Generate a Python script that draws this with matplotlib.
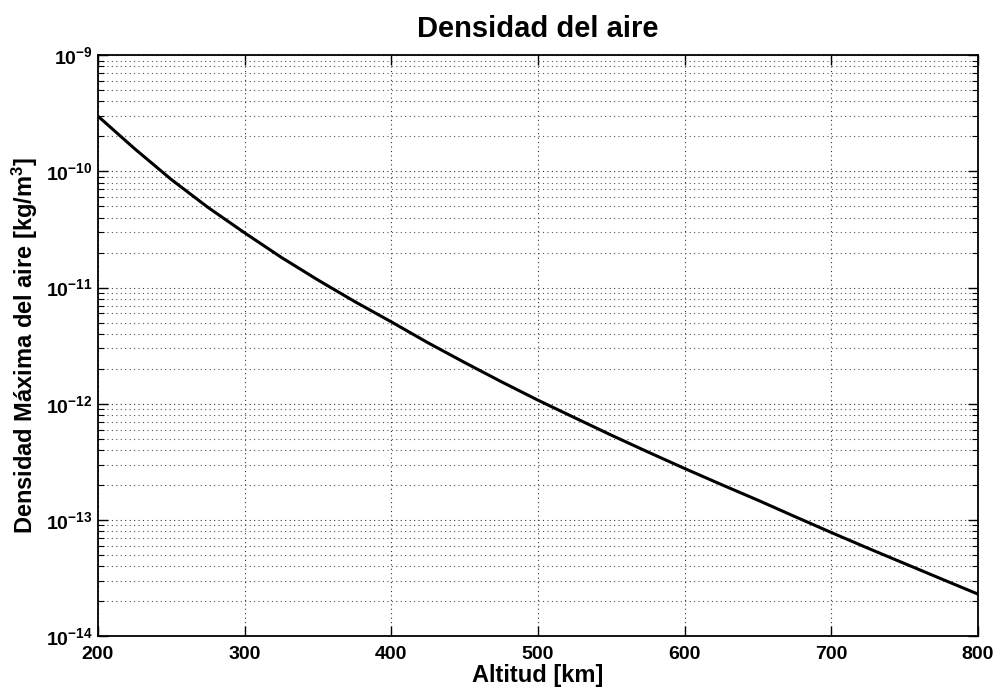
import numpy as np
import matplotlib
matplotlib.use('Agg')
import matplotlib.pyplot as plt
from matplotlib.ticker import LogLocator, NullFormatter

plt.rcParams['font.family'] = ['Liberation Sans', 'DejaVu Sans']
plt.rcParams['font.weight'] = 'bold'
plt.rcParams['mathtext.fontset'] = 'custom'
plt.rcParams['mathtext.rm'] = 'Liberation Sans:bold'
plt.rcParams['mathtext.default'] = 'rm'

# altitud [km] y log10 de la densidad
altitud = [200, 225, 250, 275, 300, 325, 350, 375, 400, 425, 450, 475, 500,
           525, 550, 575, 600, 625, 650, 675, 700, 725, 750, 775, 800]
log_dens = [-9.525, -9.805, -10.07, -10.31, -10.529, -10.74, -10.935, -11.12,
            -11.295, -11.475, -11.645, -11.81, -11.969, -12.12, -12.27, -12.415,
            -12.557, -12.695, -12.83, -12.97, -13.108, -13.243, -13.375, -13.507, -13.638]
densidad = [10 ** v for v in log_dens]

fig = plt.figure(figsize=(10, 6.9), dpi=100)
ax = fig.add_axes([0.098, 0.078, 0.88, 0.842])

ax.semilogy(altitud, densidad, color='black', linewidth=2.2)
ax.set_xlim(200, 800)
ax.set_ylim(1e-14, 1e-9)
ax.set_xticks([200, 300, 400, 500, 600, 700, 800])
ax.yaxis.set_major_locator(LogLocator(base=10, numticks=10))
ax.yaxis.set_minor_locator(LogLocator(base=10, subs=np.arange(2, 10), numticks=100))
ax.yaxis.set_minor_formatter(NullFormatter())

dots = (0, (1, 3))
ax.grid(True, which='major', linestyle=dots, color='#333333', linewidth=0.8)
ax.grid(True, which='minor', axis='y', linestyle=dots, color='#555555', linewidth=0.8)

ax.tick_params(which='both', direction='in', top=True, right=True, labelsize=14)
ax.tick_params(axis='x', which='major', pad=7)
ax.tick_params(axis='y', which='major', pad=4)
ax.tick_params(which='major', length=7, width=1)
ax.tick_params(which='minor', length=4, width=0.8)
for s in ax.spines.values():
    s.set_linewidth(1.3)

ax.set_title('Densidad del aire', fontsize=21, fontweight='bold', pad=13)
ax.set_xlabel('Altitud [km]', fontsize=17, fontweight='bold', labelpad=1)
ax.set_ylabel('Densidad Máxima del aire [kg/m$^3$]', fontsize=17, fontweight='bold', labelpad=4)

fig.savefig('out.png', dpi=100, facecolor='white')
